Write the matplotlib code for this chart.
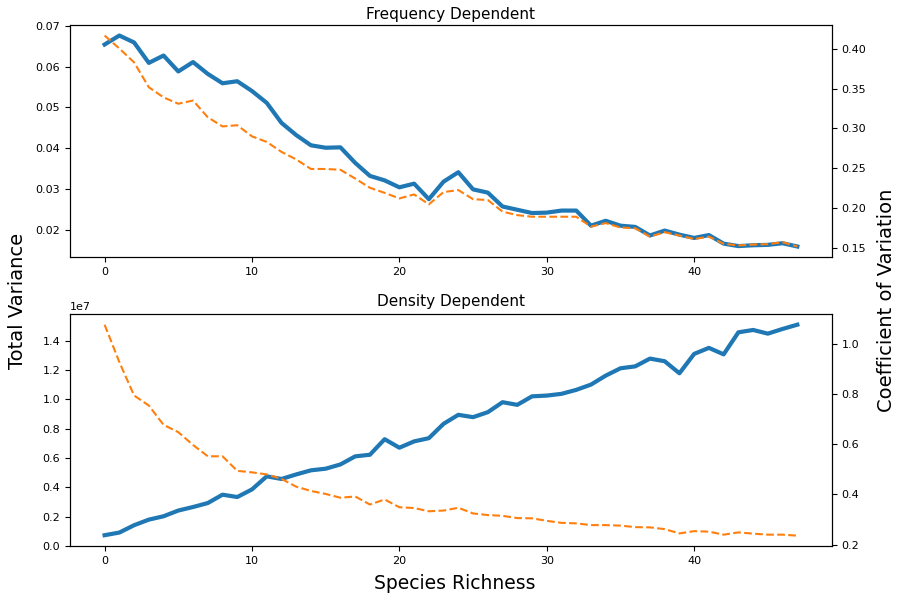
import numpy as np
import matplotlib
matplotlib.use('Agg')
import matplotlib.pyplot as plt

richness = np.arange(48)

# Frequency dependent
freq_var = [0.0654, 0.0676, 0.0659, 0.0609, 0.0627, 0.0588, 0.0611, 0.0582, 0.0559, 0.0564,
            0.0540, 0.0511, 0.0462, 0.0432, 0.0407, 0.0401, 0.0402, 0.0364, 0.0332, 0.0321,
            0.0304, 0.0313, 0.0275, 0.0318, 0.0341, 0.0299, 0.0291, 0.0257, 0.0249, 0.0241,
            0.0242, 0.0247, 0.0247, 0.0210, 0.0222, 0.0210, 0.0207, 0.0186, 0.0198, 0.0188,
            0.0180, 0.0187, 0.0166, 0.0160, 0.0162, 0.0163, 0.0167, 0.0159]
freq_cv = [0.4167, 0.4004, 0.383, 0.3517, 0.339, 0.331, 0.335, 0.314, 0.3025, 0.304,
           0.290, 0.283, 0.2705, 0.261, 0.249, 0.249, 0.248, 0.237, 0.2254, 0.219,
           0.212, 0.217, 0.2046, 0.220, 0.2225, 0.211, 0.210, 0.1954, 0.191, 0.189,
           0.189, 0.189, 0.189, 0.1766, 0.181, 0.1754, 0.1746, 0.164, 0.1696, 0.1654,
           0.161, 0.164, 0.155, 0.153, 0.154, 0.1545, 0.157, 0.1516]

# Density dependent (variance in units of 1e7)
dens_var = [0.075, 0.093, 0.143, 0.181, 0.204, 0.243, 0.267, 0.294, 0.351, 0.335,
            0.387, 0.476, 0.458, 0.489, 0.517, 0.528, 0.557, 0.612, 0.623, 0.729,
            0.671, 0.714, 0.736, 0.834, 0.895, 0.879, 0.913, 0.981, 0.963, 1.021,
            1.026, 1.038, 1.065, 1.101, 1.162, 1.212, 1.225, 1.278, 1.260, 1.178,
            1.310, 1.351, 1.307, 1.457, 1.473, 1.448, 1.480, 1.509]
dens_cv = [1.0757, 0.927, 0.794, 0.754, 0.677, 0.648, 0.597, 0.552, 0.552, 0.494,
           0.488, 0.480, 0.462, 0.431, 0.414, 0.402, 0.387, 0.392, 0.360, 0.380,
           0.349, 0.346, 0.333, 0.336, 0.347, 0.3245, 0.318, 0.315, 0.306, 0.305,
           0.295, 0.287, 0.285, 0.278, 0.278, 0.276, 0.270, 0.269, 0.262, 0.245,
           0.254, 0.252, 0.240, 0.249, 0.244, 0.240, 0.240, 0.236]

fig = plt.figure(figsize=(8.97, 5.95), dpi=100)

ax1 = fig.add_axes([0.078, 0.568, 0.8495, 0.39])
ax1.plot(richness, freq_var, color='C0', lw=3)
ax1b = ax1.twinx()
ax1b.plot(richness, freq_cv, color='C1', lw=1.5, ls='--')
ax1.set_title('Frequency Dependent', fontsize=11, pad=4.5)

ax2 = fig.add_axes([0.078, 0.082, 0.8495, 0.39])
ax2.plot(richness, np.array(dens_var) * 1e7, color='C0', lw=3)
ax2.set_ylim(bottom=0)
ax2b = ax2.twinx()
ax2b.plot(richness, dens_cv, color='C1', lw=1.5, ls='--')
ax2.set_title('Density Dependent', fontsize=11, pad=6)

for a in (ax1, ax1b, ax2, ax2b):
    a.tick_params(labelsize=8)
ax2.yaxis.get_offset_text().set_fontsize(8)

fig.text(0.02, 0.495, 'Total Variance', rotation=90, fontsize=14, va='center', ha='center')
fig.text(0.988, 0.495, 'Coefficient of Variation', rotation=90, fontsize=14, va='center', ha='center')
fig.text(0.507, 0.02, 'Species Richness', fontsize=13.5, va='center', ha='center')

fig.savefig('out.png', dpi=100)
